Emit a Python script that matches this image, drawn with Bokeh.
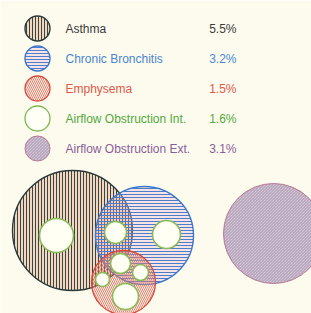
from bokeh.plotting import figure
from bokeh.models import Range1d
from bokeh.core.properties import value
from bokeh.embed import file_html
from bokeh.resources import INLINE

# ---- data ----
categories = ["Asthma", "Chronic Bronchitis", "Emphysema",
              "Airflow Obstruction Int.", "Airflow Obstruction Ext."]
percents = [5.5, 3.2, 1.5, 1.6, 3.1]
pct_labels = ["5.5%", "3.2%", "1.5%", "1.6%", "3.1%"]

# diagram circles (center x, center y, radius) in picture units
asthma_c = [72, 230, 60]
bronch_c = [144, 235, 49]
emph_c = [123, 282, 32]
ext_c = [273, 233, 50]
hole_x = [56, 115, 166, 120, 102, 140, 125]
hole_y = [235, 232, 234, 263, 279, 272, 296]
hole_r = [17, 11, 14, 10, 7, 8, 13]

# legend rows
leg_y = [28, 58, 88, 118, 148]

BG = "#fdfbee"
text_colors = ["#3a3a3a", "#4a86d4", "#e0584a", "#52aa40", "#8a5e9a"]

p = figure(width=311, height=313, output_backend="svg", toolbar_location=None,
           x_range=Range1d(0, 311), y_range=Range1d(313, 0),
           min_border=0)
p.axis.visible = False
p.grid.visible = False
p.outline_line_color = None
p.background_fill_color = BG
p.border_fill_color = BG

# styles per series
styles = [
    dict(fill_color="#f5d6bc", fill_alpha=1.0, hatch_pattern="vertical_line",
         hatch_color="#34484a", hatch_scale=3, hatch_weight=1.0,
         line_color="#2a3a3a", line_width=1.4),
    dict(fill_color="#f2b8cc", fill_alpha=0.35, hatch_pattern="horizontal_line",
         hatch_color="#4a7ed0", hatch_scale=3, hatch_weight=1.0,
         line_color="#3a78cc", line_width=1.4),
    dict(fill_color="#f6c4a8", fill_alpha=0.2, hatch_pattern="left_diagonal_line",
         hatch_color="#dc6a5e", hatch_scale=4, hatch_weight=0.8,
         line_color="#d8483c", line_width=1.3),
    dict(fill_color="#fffff6", fill_alpha=1.0, line_color="#7ab850", line_width=1.3),
    dict(fill_color="#f3d0da", fill_alpha=1.0, hatch_pattern="left_diagonal_line",
         hatch_color="#9a9ab6", hatch_scale=3, hatch_weight=0.9,
         line_color="#b87a92", line_width=1.0),
]

# diagram
p.circle([asthma_c[0]], [asthma_c[1]], radius=asthma_c[2], **styles[0])
p.circle([bronch_c[0]], [bronch_c[1]], radius=bronch_c[2], **styles[1])
p.circle([emph_c[0]], [emph_c[1]], radius=emph_c[2], **styles[2])
p.circle([ext_c[0]], [ext_c[1]], radius=ext_c[2], **styles[4])
p.circle(hole_x, hole_y, radius=hole_r, fill_color="#fffff4",
         line_color="#86bc58", line_width=1.6)

# legend
for i, cat in enumerate(categories):
    p.circle([37], [leg_y[i]], radius=12.5, **styles[i])
    p.text([65], [leg_y[i]], text=[cat], text_color=text_colors[i],
           text_font=value("Liberation Sans"), text_font_size="12px",
           text_baseline="middle", text_align="left")
    p.text([236], [leg_y[i]], text=[pct_labels[i]], text_color=text_colors[i],
           text_font=value("Liberation Sans"), text_font_size="12px",
           text_baseline="middle", text_align="right")

html = file_html(p, INLINE)
open("out.html", "w").write(html)
